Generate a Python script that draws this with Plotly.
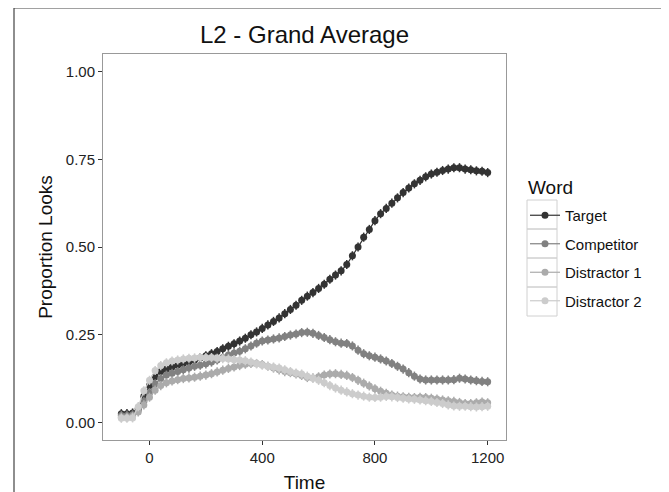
import plotly.graph_objects as go

time = list(range(-100, 1201, 20))

target = [0.025, 0.025, 0.027, 0.040, 0.075, 0.105, 0.130, 0.145, 0.152, 0.158,
          0.163, 0.168, 0.173, 0.178, 0.184, 0.190, 0.196, 0.202, 0.210, 0.217,
          0.224, 0.232, 0.240, 0.250, 0.258, 0.268, 0.278, 0.288, 0.298, 0.310,
          0.322, 0.334, 0.348, 0.360, 0.370, 0.382, 0.394, 0.408, 0.420, 0.432,
          0.450, 0.475, 0.500, 0.528, 0.550, 0.575, 0.595, 0.610, 0.625, 0.640,
          0.655, 0.668, 0.680, 0.690, 0.700, 0.708, 0.713, 0.718, 0.722, 0.726,
          0.726, 0.722, 0.720, 0.717, 0.716, 0.712]

competitor = [0.020, 0.020, 0.022, 0.035, 0.060, 0.085, 0.110, 0.125, 0.135, 0.140,
              0.145, 0.150, 0.155, 0.160, 0.163, 0.167, 0.172, 0.178, 0.185, 0.192,
              0.198, 0.203, 0.210, 0.218, 0.226, 0.232, 0.235, 0.238, 0.241, 0.245,
              0.249, 0.252, 0.256, 0.257, 0.254, 0.248, 0.242, 0.236, 0.230, 0.226,
              0.225, 0.218, 0.206, 0.196, 0.190, 0.186, 0.181, 0.175, 0.168, 0.160,
              0.152, 0.142, 0.132, 0.124, 0.121, 0.121, 0.121, 0.121, 0.121, 0.122,
              0.126, 0.124, 0.121, 0.119, 0.117, 0.116]

distractor1 = [0.015, 0.015, 0.017, 0.030, 0.050, 0.072, 0.092, 0.105, 0.113, 0.118,
               0.122, 0.125, 0.127, 0.129, 0.132, 0.135, 0.139, 0.144, 0.149, 0.154,
               0.158, 0.162, 0.166, 0.168, 0.168, 0.165, 0.160, 0.155, 0.150, 0.145,
               0.142, 0.138, 0.134, 0.128, 0.127, 0.130, 0.135, 0.138, 0.139, 0.137,
               0.134, 0.128, 0.120, 0.112, 0.104, 0.096, 0.089, 0.083, 0.078, 0.075,
               0.073, 0.072, 0.071, 0.072, 0.071, 0.069, 0.067, 0.064, 0.062, 0.060,
               0.057, 0.054, 0.054, 0.056, 0.058, 0.056]

distractor2 = [0.012, 0.012, 0.013, 0.045, 0.090, 0.120, 0.148, 0.162, 0.170, 0.175,
               0.178, 0.181, 0.183, 0.184, 0.185, 0.185, 0.185, 0.183, 0.182, 0.181,
               0.179, 0.178, 0.176, 0.172, 0.167, 0.163, 0.160, 0.158, 0.155, 0.150,
               0.145, 0.141, 0.138, 0.132, 0.126, 0.120, 0.113, 0.105, 0.098, 0.092,
               0.087, 0.082, 0.078, 0.075, 0.072, 0.071, 0.072, 0.074, 0.073, 0.071,
               0.069, 0.067, 0.066, 0.064, 0.062, 0.060, 0.057, 0.054, 0.050, 0.047,
               0.046, 0.046, 0.045, 0.044, 0.045, 0.046]

std_err = 0.013

series_names = ["Target", "Competitor", "Distractor 1", "Distractor 2"]
series_values = [target, competitor, distractor1, distractor2]
series_colors = ["#333333", "#818181", "#ABABAB", "#CCCCCC"]

x_ticks = [0, 400, 800, 1200]
y_ticks = [0.0, 0.25, 0.5, 0.75, 1.0]
y_tick_labels = ["0.00", "0.25", "0.50", "0.75", "1.00"]

FONT = "Liberation Sans, Arial, sans-serif"

fig = go.Figure()
for name, vals, col in zip(series_names, series_values, series_colors):
    fig.add_trace(go.Scatter(
        x=time, y=vals, name=name, mode="lines+markers",
        legendgroup=name,
        line=dict(color=col, width=1.2),
        marker=dict(color=col, size=7),
        error_y=dict(type="constant", value=std_err, color=col, thickness=1.5, width=0),
    ))

W, H = 669, 492
OFF = 8  # page body margin offset
L, R, T, B = 103 - OFF, 506 - OFF, 54 - OFF, 440 - OFF


def px_x(p):
    return (p - OFF - L) / (R - L)


def px_y(p):
    return (B - (p - OFF)) / (B - T)


shapes = [
    dict(type="rect", xref="paper", yref="paper",
         x0=px_x(14), x1=px_x(666), y0=px_y(530), y1=px_y(8),
         line=dict(color="#444444", width=1.2), fillcolor="rgba(0,0,0,0)",
         layer="below"),
]
key_top, key_h = 200, 29
for i in range(len(series_names)):
    shapes.append(dict(type="rect", xref="paper", yref="paper",
                       x0=px_x(527), x1=px_x(557),
                       y0=px_y(key_top + key_h * (i + 1)), y1=px_y(key_top + key_h * i),
                       line=dict(color="#D0D0D0", width=1), fillcolor="rgba(0,0,0,0)",
                       layer="below"))

fig.update_layout(
    width=W, height=H,
    margin=dict(l=L, r=W - R, t=T, b=H - B, pad=0),
    paper_bgcolor="white", plot_bgcolor="white",
    font=dict(family=FONT, color="#111111"),
    title=dict(text="L2 - Grand Average", x=0.5, xref="paper", xanchor="center",
               y=1 - (35 - OFF) / H, yref="container", yanchor="middle",
               font=dict(size=24, color="#111111")),
    showlegend=True,
    legend=dict(
        font=dict(size=15),
        x=px_x(525), xanchor="left", y=px_y(199), yanchor="top",
        tracegroupgap=6, itemwidth=30,
        bgcolor="rgba(0,0,0,0)",
    ),
    annotations=[
        dict(text="Word", xref="paper", yref="paper", x=px_x(526), y=px_y(187),
             xanchor="left", yanchor="middle", showarrow=False,
             font=dict(size=19, color="#111111")),
    ],
    xaxis=dict(
        range=[-165, 1265], tickvals=x_ticks, ticktext=[str(v) for v in x_ticks],
        showgrid=False, zeroline=False, showline=True, mirror=True,
        linecolor="#999999", linewidth=1,
        ticks="outside", ticklen=4, tickcolor="#333333", tickwidth=1,
        tickfont=dict(size=15, color="#222222"),
        title=dict(text="Time", font=dict(size=19), standoff=10),
    ),
    yaxis=dict(
        range=[-0.05, 1.05], tickvals=y_ticks, ticktext=y_tick_labels,
        showgrid=False, zeroline=False, showline=True, mirror=True,
        linecolor="#999999", linewidth=1,
        ticks="outside", ticklen=4, tickcolor="#333333", tickwidth=1,
        tickfont=dict(size=15, color="#222222"),
        title=dict(text="Proportion Looks", font=dict(size=19), standoff=8),
    ),
    shapes=shapes,
)

fig.write_html("out.html")
